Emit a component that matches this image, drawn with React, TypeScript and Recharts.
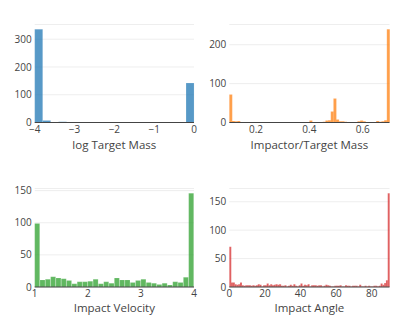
import React from "react";
import { BarChart, Bar, XAxis, YAxis, CartesianGrid, ReferenceLine } from "recharts";

// log Target Mass: 20 bins of 0.2 from -4 to 0
const massCounts = [336, 7, 0, 3, 1, 0, 0, 1, 1, 0, 0, 0, 0, 0, 0, 0, 0, 0, 0, 142];
const massTicks = [-4, -3, -2, -1, 0];
const massYTicks = [0, 100, 200, 300];

// Impactor/Target Mass: 60 bins of 0.01 from 0.10 to 0.70
const ratioCounts = [
  72, 4, 3, 4, 1, 0, 0, 0, 1, 0,
  1, 0, 1, 0, 0, 0, 0, 0, 0, 1,
  1, 0, 0, 1, 0, 0, 1, 1, 0, 1,
  5, 0, 0, 1, 1, 2, 5, 6, 28, 62,
  8, 3, 3, 2, 1, 0, 0, 1, 3, 5,
  3, 1, 0, 1, 0, 4, 2, 3, 6, 240,
];
const ratioTicks = [0.2, 0.4, 0.6];
const ratioYTicks = [0, 100, 200];

// Impact Velocity: 30 bins of 0.1 from 1 to 4
const velCounts = [
  99, 11, 12, 16, 14, 13, 10, 5, 8, 8,
  9, 12, 5, 8, 6, 14, 11, 11, 7, 10,
  12, 7, 6, 4, 6, 3, 8, 7, 15, 146,
];
const velTicks = [1, 2, 3, 4];
const velYTicks = [0, 50, 100, 150];

// Impact Angle: 90 bins of 1 degree from 0 to 90
const angleCounts = [
  71, 8, 8, 5, 4, 5, 8, 3, 2, 3,
  3, 3, 2, 3, 2, 3, 5, 4, 1, 3,
  3, 6, 3, 5, 3, 4, 5, 4, 5, 2,
  2, 3, 1, 2, 4, 2, 5, 2, 1, 3,
  6, 2, 4, 3, 5, 1, 3, 3, 3, 2,
  3, 3, 1, 2, 4, 3, 2, 1, 1, 2,
  2, 2, 3, 1, 1, 3, 2, 2, 1, 2,
  2, 2, 1, 4, 1, 1, 2, 1, 2, 1,
  1, 2, 2, 1, 2, 6, 4, 7, 12, 165,
];
const angleTicks = [0, 20, 40, 60, 80];
const angleYTicks = [0, 50, 100, 150];

const FONT = "'Open Sans', sans-serif";
const TXT = "#444";

const fmtMinus = (v: number) => (v < 0 ? "\u2212" + Math.abs(v) : String(v));

type PanelProps = {
  counts: number[];
  start: number;
  bin: number;
  xDomain: [number, number];
  xTicks: number[];
  yMax: number;
  yTicks: number[];
  color: string;
  title: string;
  left: number;
  top: number;
  width: number;
  height: number;
  margin: { top: number; right: number; bottom: number; left: number };
  yAxisWidth: number;
  xAxisHeight: number;
  fmt?: (v: number) => string;
};

function Panel(p: PanelProps) {
  const data = p.counts.map((c, i) => ({ x: +(p.start + (i + 0.5) * p.bin).toFixed(4), count: c }));
  return (
    <div style={{ position: "absolute", left: p.left, top: p.top }}>
      <BarChart
        width={p.width}
        height={p.height}
        data={data}
        margin={p.margin}
        barCategoryGap={0}
        barGap={0}
      >
        <CartesianGrid vertical={false} stroke="#eee" />
        <XAxis
          xAxisId="num"
          dataKey="x"
          type="number"
          domain={p.xDomain}
          allowDataOverflow
          ticks={p.xTicks}
          tickFormatter={p.fmt ?? fmtMinus}
          height={p.xAxisHeight}
          axisLine={false}
          tickLine={false}
          tickSize={0}
          tickMargin={3}
          interval={0}
          tick={{ fontSize: 10, fill: TXT, fontFamily: FONT }}
          label={{ value: p.title, position: "insideBottom", offset: 0, fontSize: 11.5, fill: TXT, fontFamily: FONT }}
        />
        <XAxis xAxisId="cat" dataKey="x" type="category" hide height={0} />
        <YAxis
          type="number"
          domain={[0, p.yMax]}
          allowDataOverflow
          ticks={p.yTicks}
          width={p.yAxisWidth}
          axisLine={false}
          tickLine={false}
          tickSize={0}
          tickMargin={3}
          interval={0}
          tick={{ fontSize: 10, fill: TXT, fontFamily: FONT }}
        />
        <Bar
          xAxisId="cat"
          dataKey="count"
          fill={p.color}
          fillOpacity={0.75}
          stroke="#ffffff"
          strokeOpacity={0.35}
          strokeWidth={0.4}
          isAnimationActive={false}
        />
        <ReferenceLine xAxisId="num" y={0} stroke="#444" strokeWidth={1} />
      </BarChart>
    </div>
  );
}

export default function App() {
  const topMargin = { top: 24.5, right: 6, bottom: 11, left: 0 };
  const topMarginR = { top: 24.5, right: 10.5, bottom: 11, left: 0 };
  const botMargin = { top: 28.5, right: 6, bottom: 13, left: 0 };
  const botMarginR = { top: 28.5, right: 10.5, bottom: 13, left: 0 };
  return (
    <div
      style={{
        position: "absolute",
        left: 0,
        top: 0,
        width: 415,
        height: 325,
        background: "#fff",
        fontFamily: FONT,
      }}
    >
      <Panel
        counts={massCounts}
        start={-4}
        bin={0.2}
        xDomain={[-4, 0]}
        xTicks={massTicks}
        yMax={353}
        yTicks={massYTicks}
        color="#1f77b4"
        title="log Target Mass"
        left={0}
        top={0}
        width={200}
        height={160}
        margin={topMargin}
        yAxisWidth={34.7}
        xAxisHeight={26.5}
      />
      <Panel
        counts={ratioCounts}
        start={0.1}
        bin={0.01}
        xDomain={[0.1, 0.7]}
        xTicks={ratioTicks}
        yMax={252}
        yTicks={ratioYTicks}
        color="#ff7f0e"
        title="Impactor/Target Mass"
        left={195}
        top={0}
        width={205}
        height={160}
        margin={topMarginR}
        yAxisWidth={34.3}
        xAxisHeight={26.5}
        fmt={(v: number) => v.toFixed(1)}
      />
      <Panel
        counts={velCounts}
        start={1}
        bin={0.1}
        xDomain={[1, 4]}
        xTicks={velTicks}
        yMax={153.3}
        yTicks={velYTicks}
        color="#2ca02c"
        title="Impact Velocity"
        left={0}
        top={160}
        width={200}
        height={165}
        margin={botMargin}
        yAxisWidth={34.7}
        xAxisHeight={25}
      />
      <Panel
        counts={angleCounts}
        start={0}
        bin={1}
        xDomain={[0, 90]}
        xTicks={angleTicks}
        yMax={173.3}
        yTicks={angleYTicks}
        color="#d62728"
        title="Impact Angle"
        left={195}
        top={160}
        width={205}
        height={165}
        margin={botMarginR}
        yAxisWidth={34.3}
        xAxisHeight={25}
      />
    </div>
  );
}
